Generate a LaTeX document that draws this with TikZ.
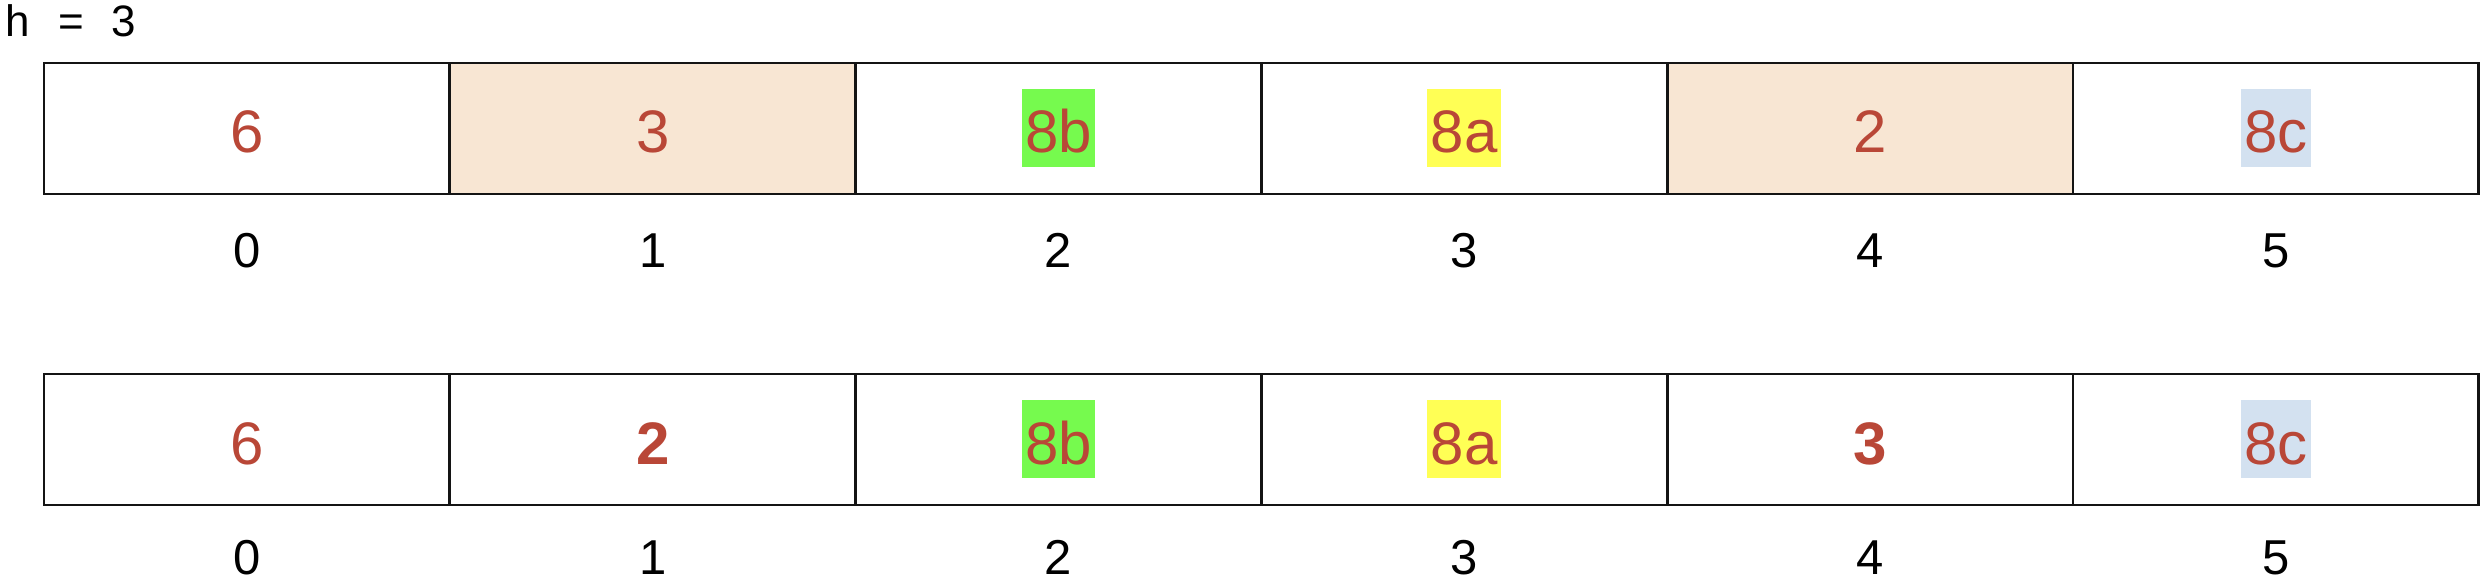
\documentclass[tikz,border=0pt]{standalone}
\usepackage{fontspec}
\setmainfont{Liberation Sans}
\definecolor{valred}{RGB}{185,71,55}
\definecolor{peach}{RGB}{248,230,211}
\definecolor{hlgreen}{RGB}{118,250,78}
\definecolor{hlyellow}{RGB}{255,255,85}
\definecolor{hlblue}{RGB}{211,225,240}
\definecolor{edge}{RGB}{20,20,20}
\tikzset{
  cell/.style={draw=edge, line width=2.9pt, rectangle, inner sep=0pt,
    minimum width=405.8pt, minimum height=131pt},
  val/.style={anchor=base, inner sep=0pt, text=valred,
    font=\fontsize{60}{72}\selectfont},
  hl/.style={val, inner xsep=3.5pt, inner ysep=0pt, text height=64pt, text depth=14pt},
  idx/.style={anchor=base, inner sep=0pt, font=\fontsize{49}{58}\selectfont},
  title/.style={anchor=base west, inner sep=0pt, font=\fontsize{44}{52}\selectfont}
}
\begin{document}
\begin{tikzpicture}[x=1pt,y=-1pt]
\useasboundingbox (0,0) rectangle (2482,580);
\fill[white] (0,0) rectangle (2482,580);
\node[title] (h) at (5,37) {h\hspace{29pt}=\hspace{27pt}3};
% top row cells
\node[cell] (a0) at (246.9,128.5) {};
\node[cell, fill=peach] (a1) at (652.7,128.5) {};
\node[cell] (a2) at (1058.5,128.5) {};
\node[cell] (a3) at (1464.3,128.5) {};
\node[cell, fill=peach] (a4) at (1870.1,128.5) {};
\node[cell] (a5) at (2275.9,128.5) {};
% top row values
\node[val] (va0) at (246.9,153) {6};
\node[val] (va1) at (652.7,153) {3};
\node[hl, fill=hlgreen] (va2) at (1058.5,153) {8b};
\node[hl, fill=hlyellow] (va3) at (1464.3,153) {8a};
\node[val] (va4) at (1870.1,153) {2};
\node[hl, fill=hlblue] (va5) at (2275.9,153) {8c};
% top row indices
\node[idx] (ia0) at (246.9,267.5) {0};
\node[idx] (ia1) at (652.7,267.5) {1};
\node[idx] (ia2) at (1058.5,267.5) {2};
\node[idx] (ia3) at (1464.3,267.5) {3};
\node[idx] (ia4) at (1870.1,267.5) {4};
\node[idx] (ia5) at (2275.9,267.5) {5};
% bottom row cells
\node[cell] (b0) at (246.9,439.5) {};
\node[cell] (b1) at (652.7,439.5) {};
\node[cell] (b2) at (1058.5,439.5) {};
\node[cell] (b3) at (1464.3,439.5) {};
\node[cell] (b4) at (1870.1,439.5) {};
\node[cell] (b5) at (2275.9,439.5) {};
% bottom row values
\node[val] (vb0) at (246.9,464) {6};
\node[val] (vb1) at (652.7,464) {\bfseries 2};
\node[hl, fill=hlgreen] (vb2) at (1058.5,464) {8b};
\node[hl, fill=hlyellow] (vb3) at (1464.3,464) {8a};
\node[val] (vb4) at (1870.1,464) {\bfseries 3};
\node[hl, fill=hlblue] (vb5) at (2275.9,464) {8c};
% bottom row indices
\node[idx] (ib0) at (246.9,574) {0};
\node[idx] (ib1) at (652.7,574) {1};
\node[idx] (ib2) at (1058.5,574) {2};
\node[idx] (ib3) at (1464.3,574) {3};
\node[idx] (ib4) at (1870.1,574) {4};
\node[idx] (ib5) at (2275.9,574) {5};
\end{tikzpicture}
\end{document}
